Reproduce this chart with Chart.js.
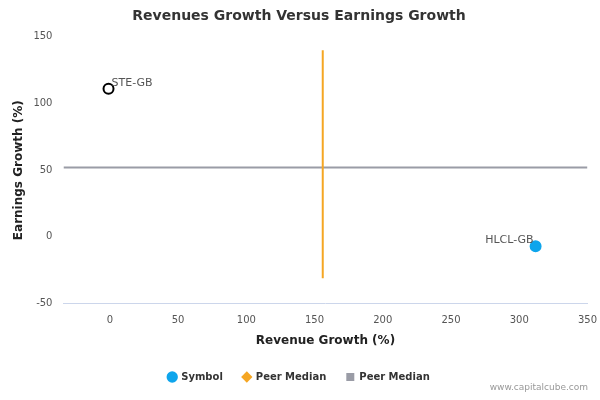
<!DOCTYPE html>
<html>
<head>
<meta charset="utf-8">
<script src="https://cdn.jsdelivr.net/npm/chart.js@4/dist/chart.umd.min.js"></script>
<style>
  body { margin: 0; background: #fff; }
  #wrap { position: relative; width: 600px; height: 400px; }
  #credit { position: absolute; right: 12px; bottom: 8px; font: 9px "DejaVu Sans", sans-serif; color: #999; }
</style>
</head>
<body>
<div id="wrap">
  <canvas id="chart" width="600" height="400"></canvas>
  <div id="credit">www.capitalcube.com</div>
</div>
<script>
// values
const symbols = ['STE-GB', 'HLCL-GB'];
const revenueGrowth = [-1, 312];
const earningsGrowth = [111, -7];
const peerRevenueMedian = 156;
const peerEarningsMedian = 52;
const xRange = [-34, 350];
const yRange = [-50, 150];
const vLineSpan = [-31, 140];

const pointLabels = {
    id: 'pointLabels',
    afterDatasetsDraw(chart) {
        const ctx = chart.ctx;
        const meta = chart.getDatasetMeta(0);
        ctx.save();
        ctx.font = '11px "DejaVu Sans", sans-serif';
        ctx.fillStyle = '#555';
        meta.data.forEach((pt, i) => {
            const left = i === 1;
            ctx.textAlign = left ? 'right' : 'left';
            ctx.fillText(symbols[i], pt.x + (left ? -2 : 3), pt.y - 6);
        });
        ctx.restore();
    }
};

new Chart(document.getElementById('chart'), {
    type: 'scatter',
    data: {
        datasets: [
            {
                label: 'Symbol',
                data: revenueGrowth.map((x, i) => ({ x, y: earningsGrowth[i] })),
                backgroundColor: ['#ffffff', '#0ea5ec'],
                borderColor: ['#000000', '#0ea5ec'],
                borderWidth: 2,
                pointRadius: 5,
                pointHoverRadius: 5,
                order: 0,
            },
            {
                label: 'Peer Median',
                type: 'line',
                data: vLineSpan.map(y => ({ x: peerRevenueMedian, y })),
                borderColor: '#f5a623',
                backgroundColor: '#f5a623',
                borderWidth: 2,
                pointRadius: 0,
                pointStyle: 'rectRot',
                order: 1,
            },
            {
                label: 'Peer Median',
                type: 'line',
                data: xRange.map(x => ({ x, y: peerEarningsMedian })),
                borderColor: '#9a9ca6',
                backgroundColor: '#9a9ca6',
                borderWidth: 2,
                pointRadius: 0,
                pointStyle: 'rect',
                order: 2,
            },
        ],
    },
    options: {
        responsive: false,
        animation: false,
        layout: { padding: { left: 8, right: 10, top: 0, bottom: 8 } },
        plugins: {
            title: {
                display: true,
                text: 'Revenues Growth Versus Earnings Growth',
                color: '#333',
                font: { family: '"DejaVu Sans", sans-serif', size: 14, weight: 'bold' },
                padding: { top: 8, bottom: 12 },
            },
            legend: {
                position: 'bottom',
                labels: {
                    color: '#333',
                    font: { family: '"DejaVu Sans", sans-serif', size: 10, weight: 'bold' },
                    usePointStyle: true,
                    boxWidth: 8,
                    boxHeight: 8,
                    padding: 20,
                    generateLabels(chart) {
                        const styles = [
                            { ps: 'circle', c: '#0ea5ec' },
                            { ps: 'rectRot', c: '#f5a623' },
                            { ps: 'rect', c: '#9a9ca6' },
                        ];
                        return chart.data.datasets.map((d, i) => ({
                            text: d.label,
                            pointStyle: styles[i].ps,
                            fillStyle: styles[i].c,
                            strokeStyle: styles[i].c,
                            lineWidth: 0,
                            datasetIndex: i,
                            fontColor: '#333',
                        }));
                    },
                },
            },
            tooltip: { enabled: false },
        },
        scales: {
            x: {
                type: 'linear',
                min: xRange[0],
                max: xRange[1],
                afterBuildTicks(axis) {
                    axis.ticks = [0, 50, 100, 150, 200, 250, 300, 350].map(v => ({ value: v }));
                },
                grid: { display: false },
                border: { color: '#ccd6eb' },
                ticks: { color: '#555', font: { family: '"DejaVu Sans", sans-serif', size: 10 } },
                title: {
                    display: true,
                    text: 'Revenue Growth (%)',
                    color: '#222',
                    font: { family: '"DejaVu Sans", sans-serif', size: 12, weight: 'bold' },
                },
            },
            y: {
                min: yRange[0],
                max: yRange[1],
                ticks: { stepSize: 50, color: '#555', font: { family: '"DejaVu Sans", sans-serif', size: 10 } },
                grid: { display: false },
                border: { display: false },
                title: {
                    display: true,
                    text: 'Earnings Growth (%)',
                    color: '#222',
                    font: { family: '"DejaVu Sans", sans-serif', size: 12, weight: 'bold' },
                },
            },
        },
    },
    plugins: [pointLabels],
});
</script>
</body>
</html>
